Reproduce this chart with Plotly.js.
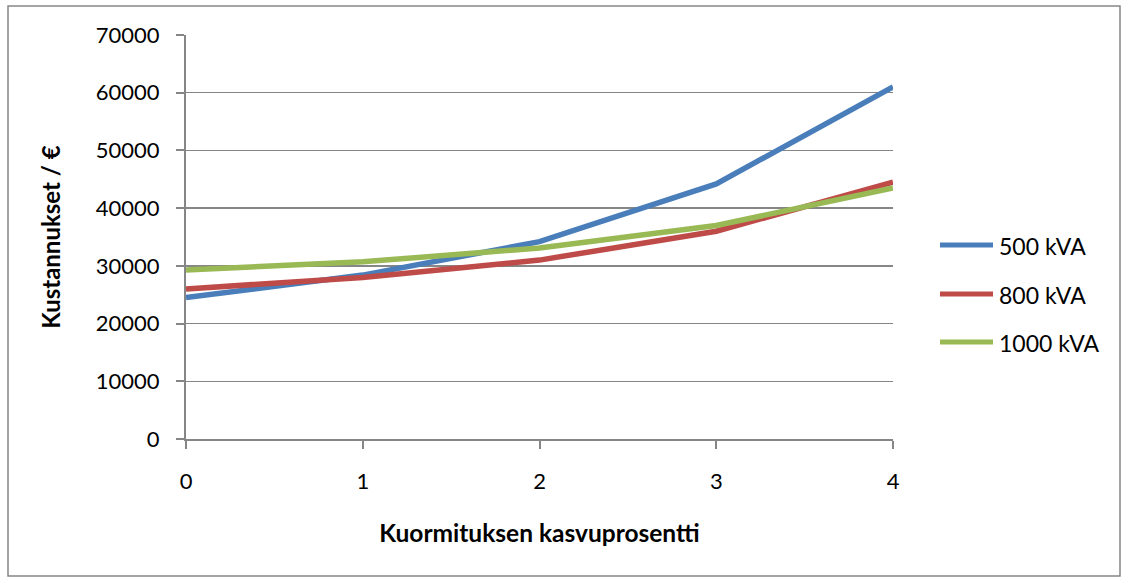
<!DOCTYPE html>
<html>
<head>
<meta charset="utf-8">
<script src="https://cdn.plot.ly/plotly-3.0.1.min.js"></script>
<style>
html,body{margin:0;padding:0;background:#fff;}
#chart{width:1127px;height:579px;}
</style>
</head>
<body>
<div id="chart"></div>
<script>
const categories = [0, 1, 2, 3, 4];
const seriesNames = ["500 kVA", "800 kVA", "1000 kVA"];
const kva500 = [24500, 28400, 34200, 44200, 61000];
const kva800 = [26000, 28000, 31000, 36000, 44500];
const kva1000 = [29300, 30700, 33100, 37000, 43500];
const yTicks = [0, 10000, 20000, 30000, 40000, 50000, 60000, 70000];

const colors = ["#4A7EBB", "#BE4B48", "#98B954"];
const font = "Lato, 'Liberation Sans', Arial, sans-serif";

// plot-area geometry (px) used to place the legend in paper coordinates
const L = 186, R = 893, T = 35, B = 439;
const PW = R - L, PH = B - T;
const px2x = px => (px - L) / PW;
const px2y = py => (B - py) / PH;

const traces = [kva500, kva800, kva1000].map((vals, i) => ({
  x: categories,
  y: vals,
  name: seriesNames[i],
  type: "scatter",
  mode: "lines",
  line: {color: colors[i], width: 5.5},
  showlegend: false
}));

// custom legend (matches the long Excel-style legend lines)
const legendY = [245, 294, 342];
const legendShapes = seriesNames.map((n, i) => ({
  type: "line", xref: "paper", yref: "paper",
  x0: px2x(940), x1: px2x(993), y0: px2y(legendY[i]), y1: px2y(legendY[i]),
  line: {color: colors[i], width: 5}
}));
const legendAnn = seriesNames.map((n, i) => ({
  text: n, xref: "paper", yref: "paper",
  x: px2x(997), y: px2y(legendY[i] + 1), xanchor: "left", yanchor: "middle",
  showarrow: false, font: {family: font, size: 23, color: "#000"}
}));

const layout = {
  width: 1127,
  height: 579,
  margin: {l: L, r: 1127 - R, t: T, b: 579 - B},
  paper_bgcolor: "#fff",
  plot_bgcolor: "#fff",
  font: {family: font, size: 22, color: "#000"},
  showlegend: false,
  xaxis: {
    range: [0, 4],
    tickvals: categories,
    ticktext: categories.map(String),
    showgrid: false,
    zeroline: false,
    showline: true,
    linecolor: "#868686",
    linewidth: 2,
    ticks: "outside",
    ticklen: 8,
    tickwidth: 2,
    tickcolor: "#868686",
    ticklabelstandoff: 14,
    tickfont: {family: font, size: 22},
    title: {text: "<b>Kuormituksen kasvuprosentti</b>", font: {family: font, size: 24.5}, standoff: 31}
  },
  yaxis: {
    range: [0, 70000],
    tickvals: yTicks,
    ticktext: yTicks.map(String),
    showgrid: true,
    gridcolor: "#868686",
    gridwidth: 1.5,
    zeroline: false,
    showline: true,
    linecolor: "#868686",
    linewidth: 2,
    ticks: "outside",
    ticklen: 8,
    tickwidth: 2,
    tickcolor: "#868686",
    ticklabelstandoff: 12,
    tickfont: {family: font, size: 22},
    title: {text: "<b>Kustannukset / €</b>", font: {family: font, size: 24}, standoff: 28}
  },
  shapes: [{
    type: "rect", xref: "paper", yref: "paper",
    x0: px2x(8), x1: px2x(1120),
    y0: px2y(576), y1: px2y(6),
    line: {color: "#868686", width: 1.5}, fillcolor: "rgba(0,0,0,0)", layer: "below"
  }].concat(legendShapes),
  annotations: legendAnn
};

Plotly.newPlot("chart", traces, layout, {displayModeBar: false, staticPlot: true});
</script>
</body>
</html>
